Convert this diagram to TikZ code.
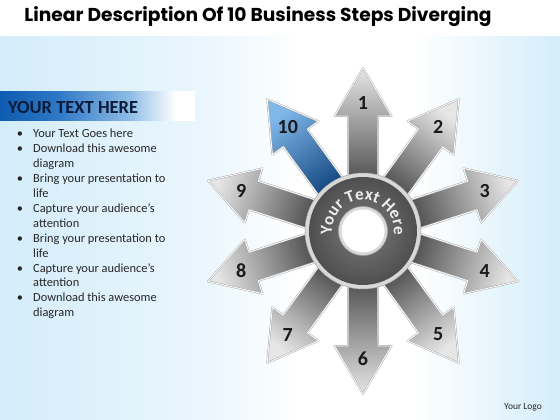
\documentclass[tikz,border=0pt]{standalone}
\usepackage{fontspec}
\setmainfont{Carlito}
\newfontfamily\titlefont{Poppins}
\usetikzlibrary{decorations.text}
\definecolor{bgblue}{HTML}{D4EDFA}
\definecolor{bgblue2}{HTML}{EAF6FD}
\definecolor{hb1}{HTML}{0E5CB0}
\definecolor{hb2}{HTML}{2E78C6}
\definecolor{hb3}{HTML}{8DBBE6}
\definecolor{adark}{HTML}{414141}
\definecolor{alight}{HTML}{E6E6E6}
\definecolor{bdark}{HTML}{073A74}
\definecolor{blight}{HTML}{80B8EA}
\definecolor{aedge}{HTML}{A9A9A9}
\definecolor{ringrim}{HTML}{D8D8D8}
\definecolor{ringin}{HTML}{7A7A7A}
\definecolor{ringout}{HTML}{4F4F4F}
\definecolor{ringtext}{HTML}{EEEEEE}
\definecolor{txt}{HTML}{262626}
\definecolor{navy}{HTML}{0B1B38}
\pgfdeclarehorizontalshading{bgsh}{100bp}{color(0bp)=(bgblue); color(25bp)=(bgblue); color(43bp)=(bgblue2); color(52bp)=(white); color(62bp)=(white); color(75bp)=(bgblue); color(100bp)=(bgblue)}
\pgfdeclarehorizontalshading{hdr}{100bp}{color(0bp)=(hb1); color(25bp)=(hb1); color(40bp)=(hb2); color(58bp)=(hb3); color(70bp)=(white); color(100bp)=(white)}
\tikzset{
  arrowsty/.style={draw=aedge, double=white!96!gray, double distance=0.9pt, line width=0.45pt, line join=round},
  numsty/.style={font=\bfseries\fontsize{20}{20}\selectfont, text=black!90},
  linesty/.style={anchor=base west, inner sep=0pt, font=\fontsize{12.4}{14}\selectfont, text=txt},
  bulsty/.style={anchor=base, inner sep=0pt, font=\fontsize{12.4}{14}\selectfont, text=txt}
}
\begin{document}
\begin{tikzpicture}[x=1pt,y=1pt]
\useasboundingbox (0,0) rectangle (560,420);
\fill[white] (0,0) rectangle (560,420);
\shade[shading=bgsh] (0,0) rectangle (560,383);
% title
\node[font=\titlefont\bfseries, text=black, inner sep=0pt] (title) at (258,403) {\resizebox{467pt}{!}{Linear Description Of 10 Business Steps Diverging}};
% header bar
\shade[shading=hdr] (0,299) rectangle (195,328);
\node[anchor=west, inner sep=0pt, font=\bfseries\fontsize{18.5}{18.5}\selectfont, text=navy] (hdr) at (8,312.5) {YOUR TEXT HERE};
% bullet lines
\foreach \t [count=\k from 0] in {Your Text Goes here, Download this awesome, diagram, Bring your presentation to, life, Capture your audience’s, attention, Bring your presentation to, life, Capture your audience’s, attention, Download this awesome, diagram}{
  \pgfmathsetmacro\yy{420-(133.6+14.92*\k+4.2)}
  \node[linesty] (l\k) at (33,\yy) {\t};
}
\foreach \k in {0,1,3,5,7,9,11}{
  \pgfmathsetmacro\yy{420-(133.6+14.92*\k+4.2)}
  \node[bulsty] (bu\k) at (20,\yy) {•};
}
% arrows
\coordinate (C) at (363,189);
\foreach \i in {1,...,10}{
  \pgfmathsetmacro\ang{90-36*(\i-1)}
  \pgfmathsetmacro\sang{\ang-90}
  \ifnum\i=10
    \def\cd{bdark}\def\cl{blight}
  \else
    \def\cd{adark}\def\cl{alight}
  \fi
  \begin{scope}[shift={(C)}, rotate=\ang]
    \shade[arrowsty, top color=\cl, bottom color=\cd, shading angle=\sang]
      (38,-15) -- (115,-15) -- (115,-28.5) -- (163,0) -- (115,28.5) -- (115,15) -- (38,15) -- cycle;
    \node[numsty] (n\i) at (128,0) {\i};
  \end{scope}
}
% ring
\fill[ringrim, draw=aedge, line width=0.5pt] (C) circle[radius=58];
\shade[inner color=ringin, outer color=ringout] (C) circle[radius=54];
\fill[ringrim, draw=aedge, line width=0.5pt] (C) circle[radius=24.5];
\fill[white] (C) circle[radius=21.5];
\path[shift={(C)}, decorate, decoration={text along path, text align=center,
  text={|\bfseries\fontsize{17}{17}\selectfont\color{ringtext}|Your Text  Here}}]
  (205:31) arc[start angle=205, end angle=-25, radius=31];
% logo
\node[inner sep=0pt, font=\fontsize{9.5}{9.5}\selectfont, text=black!85] (logo) at (523,13) {Your Logo};
\end{tikzpicture}
\end{document}
